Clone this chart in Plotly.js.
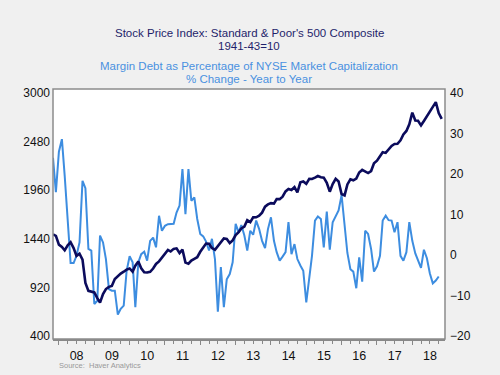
<!DOCTYPE html>
<html>
<head>
<meta charset="utf-8">
<script src="https://cdn.plot.ly/plotly-3.0.1.min.js"></script>
<style>
  html, body { margin: 0; padding: 0; background: #f0f0f0; }
  #chart { width: 500px; height: 375px; }
</style>
</head>
<body>
<div id="chart"></div>
<script>
// Monthly observations, Nov 2007 onward
const startMonth = "2007-11";

// S&P 500 composite, monthly average (Nov 2007 - Nov 2018)
const spx = [
  1488, 1472,
  1378, 1354, 1317, 1370, 1403, 1341, 1257, 1281, 1217, 968, 883, 877,
  866, 806, 757, 848, 902, 926, 935, 1010, 1045, 1068, 1088, 1110,
  1123, 1089, 1152, 1197, 1125, 1083, 1079, 1087, 1122, 1171, 1198, 1242,
  1282, 1321, 1304, 1332, 1338, 1288, 1325, 1185, 1173, 1207, 1226, 1243,
  1301, 1352, 1389, 1386, 1341, 1323, 1360, 1403, 1443, 1438, 1395, 1422,
  1480, 1512, 1551, 1571, 1640, 1619, 1669, 1670, 1687, 1720, 1784, 1808,
  1822, 1817, 1864, 1864, 1890, 1947, 1973, 1962, 1993, 1937, 2045, 2054,
  2028, 2082, 2080, 2095, 2112, 2099, 2094, 2040, 1944, 2025, 2081, 2054,
  1919, 1904, 2022, 2076, 2066, 2084, 2149, 2177, 2158, 2143, 2165, 2247,
  2275, 2330, 2367, 2359, 2395, 2434, 2454, 2456, 2493, 2557, 2594, 2664,
  2790, 2705, 2703, 2654, 2701, 2754, 2794, 2858, 2902, 2785, 2723
];

// Margin debt as % of NYSE market cap, % change yoy (Nov 2007 - Oct 2018)
const marginYoY = [
  24, 15.5,
  25.5, 28.6, 19.5, 8, -2, -2, -0.2, 3.1, 18.3, 16.5, 1.5, 1.1,
  -12.1, -11.3, 4.8, 3.1, -1, -8.4, -8.8, -8.8, -14.7, -13.3, -12.5, -3.9,
  -0.3, -1.8, -12.9, -1.8, 0.2, 0.8, -1.4, 3.5, 4.3, 1.9, 9.7, 6.0,
  7.2, 7.6, 7.7, 7.7, 10.5, 12.2, 21.2, 10.1, 21.2, 13.4, 14.2, 8.9,
  5.2, 4.6, 3.3, 1.1, 4.0, -1.0, -14.0, -3.0, -12.9, -6.0, -4.7, -1.8,
  7.7, 5.6, 7.4, 4.8, 1.1, 6.0, 5.0, 8.5, 6.4, 3.5, 1.7, 6.4,
  9.3, 3.5, 0.7, -1.4, -0.4, 0.7, 8.1, 0.2, 2.7, -1.0, -2.6, -3.9,
  -11.7, -6.3, -0.2, 8.5, 9.5, 8.9, 1.9, 10.7, 1.3, 8.1, 9.5, 11,
  14.8, 7.5, 0.5, -3.5, -4.1, -8.2, -0.6, -6.6, 6.0, 5.2, 1.5, -4.1,
  -2.8, -0.2, 8.5, 9.7, 8.6, 8.5, 5.6, 8.1, -0.2, -1.4, 0.7, 8.1,
  3.5, 0.4, -1.4, -3.2, 1.3, -0.8, -4.5, -7.0, -6.3, -5.3
];

const leftTicks = [400, 920, 1440, 1960, 2480, 3000];
const rightTicks = [-20, -10, 0, 10, 20, 30, 40];

function monthDates(start, n) {
  const [y0, m0] = start.split("-").map(Number);
  const out = [];
  for (let i = 0; i < n; i++) {
    const t = (m0 - 1) + i;
    const y = y0 + Math.floor(t / 12);
    const m = (t % 12) + 1;
    out.push(y + "-" + String(m).padStart(2, "0") + "-01");
  }
  return out;
}

const datesSpx = monthDates(startMonth, spx.length);
const datesMargin = monthDates(startMonth, marginYoY.length);

const font = "Liberation Sans, Arial, sans-serif";

const traces = [
  {
    x: datesMargin, y: marginYoY, type: "scatter", mode: "lines",
    line: { color: "#3d8de0", width: 2 }, yaxis: "y", xaxis: "x",
    hoverinfo: "skip"
  },
  {
    x: datesSpx, y: spx, type: "scatter", mode: "lines",
    line: { color: "#0b0b5c", width: 2.6 }, yaxis: "y2", xaxis: "x",
    hoverinfo: "skip"
  }
];

const layout = {
  width: 500, height: 375,
  paper_bgcolor: "#f0f0f0",
  plot_bgcolor: "#ffffff",
  showlegend: false,
  margin: { l: 53, r: 55, t: 89, b: 36 },
  font: { family: font, size: 12, color: "#111" },
  xaxis: {
    type: "date",
    range: ["2007-11-01", "2018-12-05"],
    dtick: "M12", tick0: "2008-01-01",
    tickformat: "%y", ticklabelmode: "period",
    ticks: "outside", ticklen: 4, tickwidth: 1, tickcolor: "#888",
    minor: { dtick: "M3", tick0: "2008-01-01", ticks: "outside", ticklen: 3, tickcolor: "#888", tickwidth: 1 },
    showgrid: false, zeroline: false,
    showline: true, linecolor: "#888", linewidth: 1.5,
    tickfont: { family: font, size: 12.5, color: "#111" }
  },
  yaxis: {
    side: "right",
    range: [-20.74, 40.99],
    tickmode: "array", tickvals: rightTicks,
    showgrid: false, zeroline: false, ticks: "",
    ticklabelstandoff: 4,
    tickfont: { family: font, size: 12, color: "#111" }
  },
  yaxis2: {
    side: "left", overlaying: "y",
    range: [367.9, 3042.8],
    tickmode: "array", tickvals: leftTicks,
    showgrid: false, zeroline: false, ticks: "",
    ticklabelstandoff: 2,
    tickfont: { family: font, size: 12, color: "#111" }
  },
  shapes: [
    { type: "rect", xref: "paper", yref: "paper", x0: 0, x1: 1, y0: 0, y1: 1,
      line: { color: "#8c8c8c", width: 1.5 }, layer: "above" }
  ],
  annotations: [
    { text: "Stock Price Index: Standard & Poor's 500 Composite", xref: "paper", yref: "paper",
      x: 0.5, y: 1.226, xanchor: "center", yanchor: "middle", showarrow: false,
      font: { family: font, size: 11.5, color: "#1f1f6b" } },
    { text: "1941-43=10", xref: "paper", yref: "paper",
      x: 0.5, y: 1.174, xanchor: "center", yanchor: "middle", showarrow: false,
      font: { family: font, size: 11.5, color: "#1f1f6b" } },
    { text: "Margin Debt as Percentage of NYSE Market Capitalization", xref: "paper", yref: "paper",
      x: 0.5, y: 1.09, xanchor: "center", yanchor: "middle", showarrow: false,
      font: { family: font, size: 11.5, color: "#4a90e0" } },
    { text: "% Change - Year to Year", xref: "paper", yref: "paper",
      x: 0.5, y: 1.038, xanchor: "center", yanchor: "middle", showarrow: false,
      font: { family: font, size: 11.5, color: "#4a90e0" } },
    { text: "Source:  Haver Analytics", xref: "paper", yref: "paper",
      x: 0.0102, y: -0.104, xanchor: "left", yanchor: "middle", showarrow: false,
      font: { family: font, size: 7.5, color: "#999" } }
  ]
};

Plotly.newPlot("chart", traces, layout, { staticPlot: true, displayModeBar: false });
</script>
</body>
</html>
